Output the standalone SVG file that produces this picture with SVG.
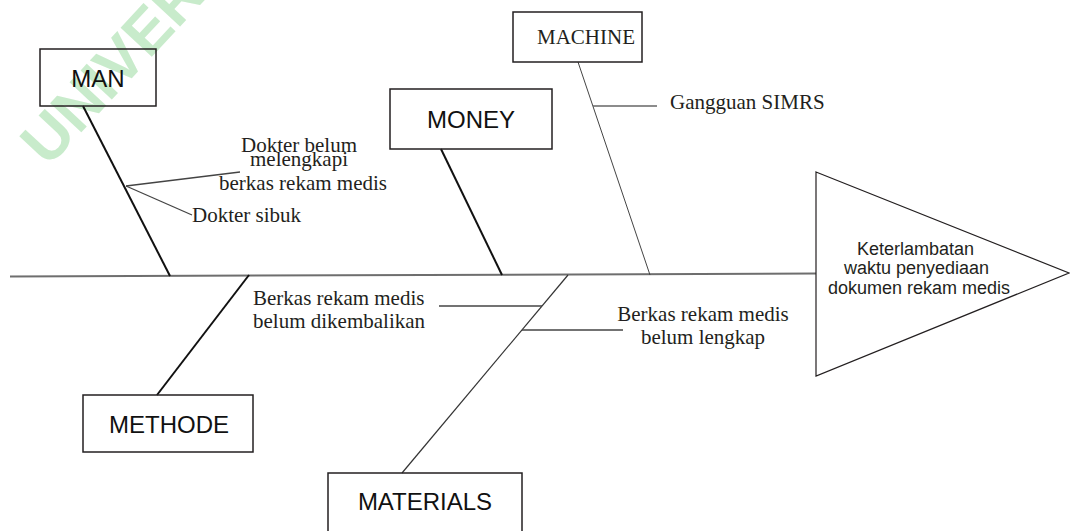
<svg xmlns="http://www.w3.org/2000/svg" width="1070" height="531" viewBox="0 0 1070 531">
<style>
.box{fill:none;stroke:#231f20;stroke-width:1.5}
.lbl{font-family:"Liberation Sans",Arial,sans-serif;font-size:24px;fill:#111;text-anchor:middle}
.ser{font-family:"Liberation Serif","Times New Roman",serif;font-size:21px;fill:#231f20}
.mid{text-anchor:middle}
.bone{stroke:#111;stroke-width:2;fill:none}
.thin{stroke:#333;stroke-width:1.2;fill:none}
.sub{stroke:#444;stroke-width:1.3;fill:none}
.wm{font-family:"Liberation Sans",Arial,sans-serif;font-weight:bold;font-size:62px;fill:#c8ebcb}
</style>
<rect width="1070" height="531" fill="#fff"/>
<text class="wm" transform="translate(48,168) rotate(-47)">UNIVERSITAS</text>

<g id="connectors">
  <line x1="10" y1="276.5" x2="816" y2="273.5" stroke="#6e6e6e" stroke-width="2"/>
  <line class="bone" x1="83" y1="106" x2="170" y2="276"/>
  <line class="sub" x1="126" y1="186" x2="240" y2="172"/>
  <line class="sub" x1="126" y1="186" x2="192" y2="215"/>
  <line class="bone" x1="157" y1="395" x2="249" y2="275"/>
  <line class="bone" x1="441" y1="149" x2="502" y2="275"/>
  <line x1="578" y1="62" x2="650" y2="275" stroke="#444" stroke-width="1"/>
  <line x1="593" y1="106" x2="657" y2="106" stroke="#666" stroke-width="1.5"/>
  <line class="thin" x1="568" y1="275" x2="402" y2="473"/>
  <line class="sub" x1="439" y1="306" x2="542" y2="306"/>
  <line class="sub" x1="522" y1="330" x2="623" y2="330"/>
</g>

<g id="man">
  <rect class="box" x="40" y="49" width="116" height="57"/>
  <text class="lbl" x="98" y="87">MAN</text>
</g>
<g id="money">
  <rect class="box" x="390" y="89" width="162" height="60"/>
  <text class="lbl" x="471" y="128">MONEY</text>
</g>
<g id="machine">
  <rect class="box" x="513" y="12" width="129" height="50"/>
  <text class="ser" x="537" y="44">MACHINE</text>
</g>
<g id="methode">
  <rect class="box" x="83" y="395" width="170" height="57"/>
  <text class="lbl" x="169" y="433">METHODE</text>
</g>
<g id="materials">
  <rect class="box" x="328" y="473" width="194" height="62"/>
  <text class="lbl" x="425" y="510">MATERIALS</text>
</g>
<g id="effect">
  <polygon points="816,172 1069,273 816,376" fill="none" stroke="#231f20" stroke-width="1.2"/>
  <text font-family="Liberation Sans, Arial, sans-serif" font-size="18" fill="#231f20" text-anchor="middle">
    <tspan x="918" y="255">Keterlambatan</tspan>
    <tspan x="919" y="274">waktu penyediaan</tspan>
    <tspan x="919" y="294">dokumen rekam medis</tspan>
  </text>
</g>

<g id="cause-dokter-belum">
  <text class="ser mid"><tspan x="299" y="152">Dokter belum</tspan><tspan x="299" y="166">melengkapi</tspan><tspan x="303" y="190">berkas rekam medis</tspan></text>
</g>
<g id="cause-dokter-sibuk">
  <text class="ser" x="192" y="222">Dokter sibuk</text>
</g>
<g id="cause-gangguan">
  <text class="ser" x="670" y="109" font-size="20">Gangguan SIMRS</text>
</g>
<g id="cause-dikembalikan">
  <text class="ser"><tspan x="253" y="305">Berkas rekam medis</tspan><tspan x="253" y="328">belum dikembalikan</tspan></text>
</g>
<g id="cause-lengkap">
  <text class="ser mid"><tspan x="703" y="321">Berkas rekam medis</tspan><tspan x="703" y="344">belum lengkap</tspan></text>
</g>
</svg>
